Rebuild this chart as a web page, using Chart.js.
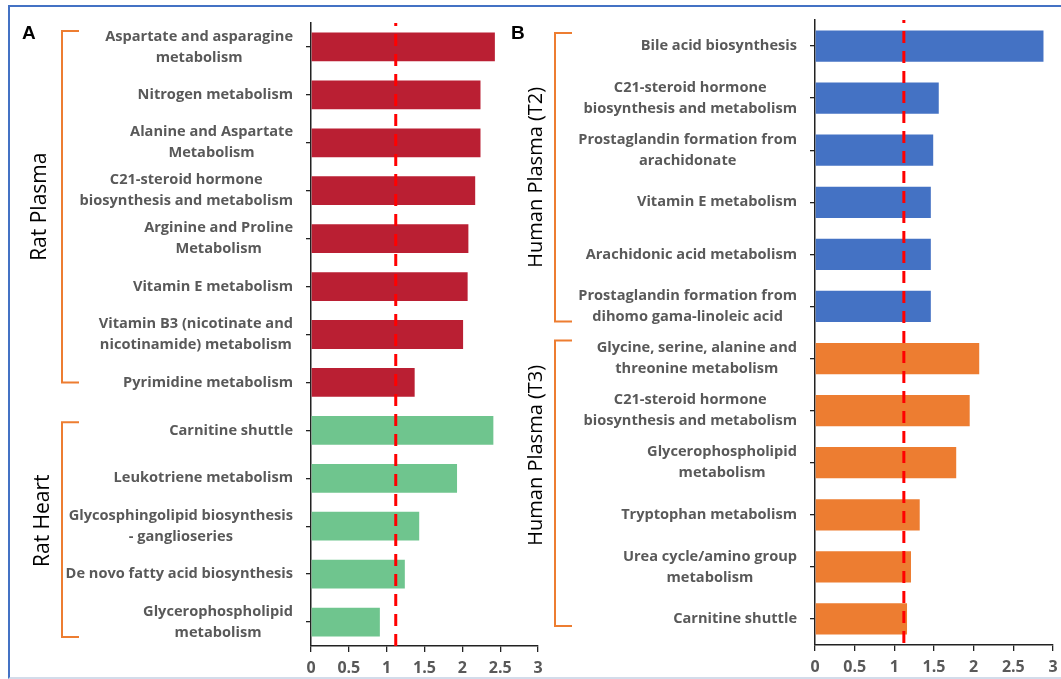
<!DOCTYPE html>
<html>
<head>
<meta charset="utf-8">
<script src="https://cdn.jsdelivr.net/npm/chart.js@4.4.1/dist/chart.umd.min.js"></script>
<style>
  html, body { margin: 0; padding: 0; background: #fff; }
  #stage { position: relative; width: 1061px; height: 679px; overflow: hidden; background: #fff; }
  #frame {
    position: absolute; left: 8px; top: 5px; width: 1060px; height: 670px;
    border-left: 2.5px solid #4472C4; border-top: 2px solid #4472C4; border-bottom: 2px solid #d3dcea;
  }
  canvas { position: absolute; left: 0; top: 0; }
</style>
</head>
<body>
<div id="stage">
  <div id="frame"></div>
  <canvas id="panelA" width="1061" height="679"></canvas>
  <canvas id="panelB" width="1061" height="679"></canvas>
</div>
<script>
// ---- Panel A: rat pathways ----
const ratPathways = [
  ['Aspartate and asparagine', 'metabolism'],
  ['Nitrogen metabolism'],
  ['Alanine and Aspartate', 'Metabolism'],
  ['C21-steroid hormone', 'biosynthesis and metabolism'],
  ['Arginine and Proline', 'Metabolism'],
  ['Vitamin E metabolism'],
  ['Vitamin B3 (nicotinate and', 'nicotinamide) metabolism'],
  ['Pyrimidine metabolism'],
  ['Carnitine shuttle'],
  ['Leukotriene metabolism'],
  ['Glycosphingolipid biosynthesis', '- ganglioseries'],
  ['De novo fatty acid biosynthesis'],
  ['Glycerophospholipid', 'metabolism']
];
const ratScores = [2.43, 2.24, 2.24, 2.17, 2.08, 2.07, 2.01, 1.37, 2.41, 1.93, 1.43, 1.24, 0.91];
const ratGroups = ['Rat Plasma', 'Rat Heart'];
const ratGroupSizes = [8, 5];

// ---- Panel B: human pathways ----
const humanPathways = [
  ['Bile acid biosynthesis'],
  ['C21-steroid hormone', 'biosynthesis and metabolism'],
  ['Prostaglandin formation from', 'arachidonate'],
  ['Vitamin E metabolism'],
  ['Arachidonic acid metabolism'],
  ['Prostaglandin formation from', 'dihomo gama-linoleic acid'],
  ['Glycine, serine, alanine and', 'threonine metabolism'],
  ['C21-steroid hormone', 'biosynthesis and metabolism'],
  ['Glycerophospholipid', 'metabolism'],
  ['Tryptophan metabolism'],
  ['Urea cycle/amino group', 'metabolism'],
  ['Carnitine shuttle']
];
const humanScores = [2.88, 1.56, 1.49, 1.46, 1.46, 1.46, 2.07, 1.95, 1.78, 1.32, 1.21, 1.16];
const humanGroups = ['Human Plasma (T2)', 'Human Plasma (T3)'];
const humanGroupSizes = [6, 6];

// significance cut-off drawn as the dashed line
const significanceCutoff = 1.12;
const xAxisMin = 0, xAxisMax = 3, xAxisStep = 0.5;

// ---- styling ----
const LABEL_GREY = '#595959';
const BRACKET_ORANGE = '#ED7D31';
const UI_FONT = '"Open Sans", "Liberation Sans", sans-serif';

function colorsFor(sizes, palette) {
  const out = [];
  sizes.forEach((n, g) => { for (let i = 0; i < n; i++) out.push(palette[g]); });
  return out;
}

// Draws the threshold line, centred multi-line pathway names, group brackets and panel letter
const panelDecor = {
  id: 'panelDecor',
  afterDatasetsDraw(chart, args, o) {
    const ctx = chart.ctx, xs = chart.scales.x, area = chart.chartArea;
    const tx = xs.getPixelForValue(o.cutoff);
    ctx.save();
    ctx.strokeStyle = '#FF0000';
    ctx.lineWidth = 3;
    ctx.setLineDash([12, 8]);
    ctx.lineDashOffset = 9;
    ctx.beginPath();
    ctx.moveTo(tx, area.top);
    ctx.lineTo(tx, area.bottom);
    ctx.stroke();
    ctx.restore();
  },
  afterDraw(chart, args, o) {
    const ctx = chart.ctx, ys = chart.scales.y, area = chart.chartArea;
    ctx.save();
    // pathway names, each block right-aligned with its lines centred
    ctx.font = 'bold 14.6px ' + UI_FONT;
    ctx.fillStyle = LABEL_GREY;
    ctx.textAlign = 'center';
    ctx.textBaseline = 'middle';
    const right = area.left - o.labelGap;
    chart.data.labels.forEach((lines, i) => {
      const cy = ys.getPixelForValue(i);
      const w = Math.max(...lines.map(l => ctx.measureText(l).width));
      const cx = right - w / 2;
      const y0 = cy - (lines.length - 1) * o.lineHeight / 2;
      lines.forEach((l, k) => ctx.fillText(l, cx, y0 + k * o.lineHeight));
    });

    // group brackets and rotated group names
    let start = 0;
    o.groups.forEach((name, g) => {
      const n = o.groupSizes[g];
      const st = o.groupStyle[g];
      const yTop = ys.getPixelForValue(start) + st.top;
      const yBot = ys.getPixelForValue(start + n - 1) + st.bottom;
      ctx.strokeStyle = BRACKET_ORANGE;
      ctx.lineWidth = 2;
      ctx.setLineDash([]);
      ctx.beginPath();
      ctx.moveTo(o.bracketX + o.bracketArm, yTop);
      ctx.lineTo(o.bracketX, yTop);
      ctx.lineTo(o.bracketX, yBot);
      ctx.lineTo(o.bracketX + o.bracketArm, yBot);
      ctx.stroke();

      ctx.save();
      ctx.translate(st.textX, (yTop + yBot) / 2 + st.textShift);
      ctx.rotate(-Math.PI / 2);
      ctx.font = st.fontSize + 'px ' + UI_FONT;
      ctx.fillStyle = '#000';
      ctx.textAlign = 'center';
      ctx.textBaseline = 'middle';
      ctx.fillText(name, 0, 0);
      ctx.restore();
      start += n;
    });

    // panel letter
    ctx.font = 'bold 19px "Liberation Sans", Arial, sans-serif';
    ctx.fillStyle = '#000';
    ctx.textAlign = 'left';
    ctx.textBaseline = 'top';
    ctx.fillText(o.letter, o.letterX, o.letterY);
    ctx.restore();
  }
};

function buildPanel(id, labels, values, colors, geo, decor) {
  return new Chart(document.getElementById(id), {
    type: 'bar',
    data: {
      labels: labels,
      datasets: [{
        data: values,
        backgroundColor: colors,
        borderWidth: 0,
        categoryPercentage: 1.0,
        barPercentage: 0.6
      }]
    },
    options: {
      indexAxis: 'y',
      responsive: false,
      animation: false,
      devicePixelRatio: 1,
      layout: { padding: { left: 0, top: geo.top, right: geo.right, bottom: 0 } },
      plugins: {
        legend: { display: false },
        tooltip: { enabled: false },
        panelDecor: decor
      },
      scales: {
        x: {
          type: 'linear',
          min: xAxisMin,
          max: xAxisMax,
          ticks: {
            stepSize: xAxisStep,
            color: LABEL_GREY,
            font: { family: UI_FONT, size: 16, weight: 'bold' },
            padding: 7,
            callback: v => String(v)
          },
          grid: { drawOnChartArea: false, drawTicks: true, tickLength: 6, color: '#222', lineWidth: 1.3 },
          border: { display: true, color: '#222', width: 1.5 },
          afterFit(s) { s.height = geo.xHeight; s.paddingLeft = 0; s.paddingRight = 0; }
        },
        y: {
          type: 'category',
          ticks: { display: false },
          grid: { drawOnChartArea: false, drawTicks: true, tickLength: 5, offset: false, color: '#222', lineWidth: 1.3 },
          border: { display: true, color: '#222', width: 1.5 },
          afterFit(s) { s.width = geo.yWidth; s.paddingTop = 0; s.paddingBottom = 0; }
        }
      }
    },
    plugins: [panelDecor]
  });
}

buildPanel('panelA', ratPathways, ratScores,
  colorsFor(ratGroupSizes, ['#BA1F33', '#6FC58E']),
  { top: 23, right: 1061 - 538, yWidth: 311, xHeight: 679 - 646 },
  {
    cutoff: significanceCutoff, labelGap: 18, lineHeight: 21,
    groups: ratGroups, groupSizes: ratGroupSizes,
    groupStyle: [
      { top: -16, bottom: 0, textX: 40, textShift: 0, fontSize: 21 },
      { top: -8, bottom: 15, textX: 43, textShift: -9, fontSize: 21 }
    ],
    bracketX: 62, bracketArm: 17,
    letter: 'A', letterX: 22, letterY: 24
  });

buildPanel('panelB', humanPathways, humanScores,
  colorsFor(humanGroupSizes, ['#4472C4', '#ED7D31']),
  { top: 20, right: 1061 - 1053, yWidth: 815, xHeight: 679 - 645 },
  {
    cutoff: significanceCutoff, labelGap: 18, lineHeight: 21,
    groups: humanGroups, groupSizes: humanGroupSizes,
    groupStyle: [
      { top: -13, bottom: 15, textX: 536, textShift: 0, fontSize: 20 },
      { top: -18, bottom: 7, textX: 536, textShift: -28, fontSize: 20 }
    ],
    bracketX: 555, bracketArm: 17,
    letter: 'B', letterX: 511, letterY: 24
  });
</script>
</body>
</html>
